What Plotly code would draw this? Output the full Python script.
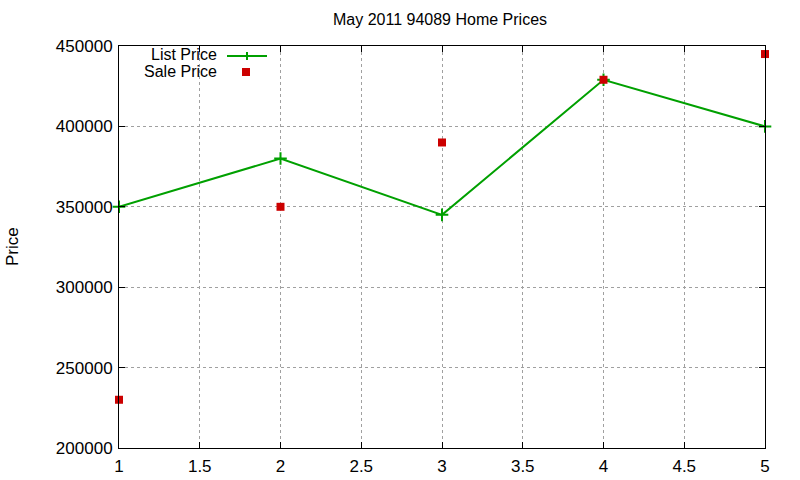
import plotly.graph_objects as go

x_vals = [1, 2, 3, 4, 5]
list_price = [350000, 380000, 345000, 429000, 400000]
sale_price = [230000, 350000, 390000, 429000, 445000]
x_ticks = [1, 1.5, 2, 2.5, 3, 3.5, 4, 4.5, 5]
x_tick_text = ["1", "1.5", "2", "2.5", "3", "3.5", "4", "4.5", "5"]
y_ticks = [200000, 250000, 300000, 350000, 400000, 450000]

GREEN = "#00a000"
RED = "#cc0000"
FONT = "Liberation Sans, Arial, sans-serif"

fig = go.Figure()
fig.add_trace(go.Scatter(
    x=x_vals, y=list_price, mode="lines+markers", name="List Price",
    line=dict(color=GREEN, width=2),
    marker=dict(symbol="cross-thin", size=9, line=dict(color=GREEN, width=2)),
    cliponaxis=False, showlegend=False,
))
fig.add_trace(go.Scatter(
    x=x_vals, y=sale_price, mode="markers", name="Sale Price",
    marker=dict(symbol="square", size=8, color=RED),
    cliponaxis=False, showlegend=False,
))

W, H = 800, 480
L, R, T, B = 119, 35, 46, 32
pw, ph = W - L - R, H - T - B

def px(xp):
    return (xp - L) / pw

def py(yp):
    return 1 - (yp - T) / ph

shapes = [
    dict(type="line", xref="paper", yref="paper", x0=px(227), x1=px(267), y0=py(56), y1=py(56),
         line=dict(color=GREEN, width=2)),
    dict(type="line", xref="paper", yref="paper", x0=px(247), x1=px(247), y0=py(52), y1=py(60),
         line=dict(color=GREEN, width=2)),
    dict(type="rect", xref="paper", yref="paper", x0=px(242), x1=px(250), y0=py(68), y1=py(76),
         fillcolor=RED, line=dict(width=0)),
]

annotations = [
    dict(text="List Price", xref="paper", yref="paper", x=px(219), y=py(55),
         xanchor="right", yanchor="middle", showarrow=False, font=dict(size=16, family=FONT, color="black")),
    dict(text="Sale Price", xref="paper", yref="paper", x=px(219), y=py(71),
         xanchor="right", yanchor="middle", showarrow=False, font=dict(size=16, family=FONT, color="black")),
    dict(text="May 2011 94089 Home Prices", xref="paper", yref="paper", x=px(440), y=py(20),
         xanchor="center", yanchor="middle", showarrow=False, font=dict(size=16, family=FONT, color="black")),
    dict(text="Price", xref="paper", yref="paper", x=px(12), y=py(247), textangle=-90,
         xanchor="center", yanchor="middle", showarrow=False, font=dict(size=17, family=FONT, color="black")),
]

axis_common = dict(
    showline=True, linecolor="black", linewidth=1, mirror="ticks",
    ticks="inside", ticklen=6, tickcolor="black",
    showgrid=True, gridcolor="#a0a0a0", griddash="dot", gridwidth=1,
    zeroline=False, automargin=False,
    tickfont=dict(size=17, family=FONT, color="black"),
)

fig.update_layout(
    width=W, height=H,
    margin=dict(l=L, r=R, t=T, b=B),
    paper_bgcolor="white", plot_bgcolor="white",
    font=dict(family=FONT, size=16, color="black"),
    xaxis=dict(range=[1, 5], tickvals=x_ticks, ticktext=x_tick_text, ticklabelstandoff=3, **axis_common),
    yaxis=dict(range=[200000, 450000], tickvals=y_ticks, ticktext=[str(v) for v in y_ticks],
               ticklabelstandoff=2, **axis_common),
    shapes=shapes, annotations=annotations,
    showlegend=False,
)

fig.write_html("out.html")
